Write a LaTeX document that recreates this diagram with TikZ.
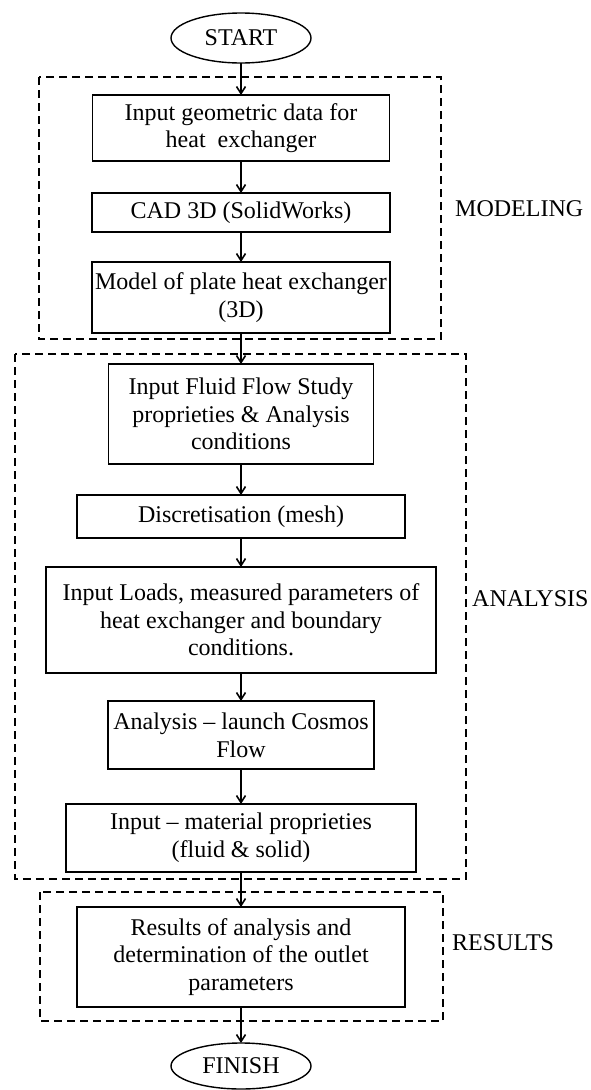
\documentclass[tikz,border=0pt]{standalone}
\usepackage{fontspec}
\setmainfont{Liberation Serif}
\usetikzlibrary{shapes,arrows.meta,positioning}

\begin{document}
\begin{tikzpicture}[x=1pt, y=1pt, >={Straight Barb[length=7pt,width=9pt]}]
    \tikzstyle{startend}   = [draw, ellipse, line width=1.4pt, outer sep=0pt, minimum width=140pt, minimum height=50pt, inner sep=1pt, font=\fontsize{24}{27.6}\selectfont]
    \tikzstyle{process}    = [draw, rectangle, line width=1.6pt, outer sep=0pt, align=center, inner xsep=2pt, inner ysep=2pt, font=\fontsize{24}{27.6}\selectfont]
    \tikzstyle{arrow}      = [line width=1.6pt, ->]
    \tikzstyle{group}      = [line width=1.4pt, dash pattern=on 8pt off 5pt]
    \tikzstyle{grouplabel} = [anchor=west, inner sep=0pt, font=\fontsize{24}{27.6}\selectfont]

    \useasboundingbox (0,0) rectangle (590,-1090);

    % Start
    \node [startend] (start) at (241,-38) {START};

    % Modeling blocks
    \node [process, below=32pt of start, minimum width=297pt, minimum height=66pt] (geom) {Input geometric data for\\heat~ exchanger};
    \node [process, below=32pt of geom, minimum width=298pt, minimum height=39pt] (cad) {CAD 3D (SolidWorks)};
    \node [process, below=30pt of cad, minimum width=298pt, minimum height=71pt] (model) {Model of plate heat exchanger\\(3D)};

    % Analysis blocks
    \node [process, below=31pt of model, minimum width=265pt, minimum height=100pt] (fluid) {Input Fluid Flow Study\\proprieties \& Analysis\\conditions};
    \node [process, below=31pt of fluid, minimum width=328pt, minimum height=43pt] (mesh) {Discretisation (mesh)};
    \node [process, below=29pt of mesh, minimum width=390pt, minimum height=106pt] (loads) {Input Loads, measured parameters of\\heat exchanger and boundary\\conditions.};
    \node [process, below=28pt of loads, minimum width=266pt, minimum height=68pt] (launch) {Analysis -- launch Cosmos\\Flow};
    \node [process, below=35pt of launch, minimum width=350pt, minimum height=68pt] (mater) {Input -- material proprieties\\(fluid \& solid)};

    % Results block
    \node [process, below=35pt of mater, minimum width=328pt, minimum height=100pt] (result) {Results of analysis and\\determination of the outlet\\parameters};

    % Finish
    \node [startend, below=36pt of result, minimum height=46pt] (finish) {FINISH};

    % Connections
    \draw [arrow] (start) -- (geom);
    \draw [arrow] (geom) -- (cad);
    \draw [arrow] (cad) -- (model);
    \draw [arrow] (model) -- (fluid);
    \draw [arrow] (fluid) -- (mesh);
    \draw [arrow] (mesh) -- (loads);
    \draw [arrow] (loads) -- (launch);
    \draw [arrow] (launch) -- (mater);
    \draw [arrow] (mater) -- (result);
    \draw [arrow] (result) -- (finish);

    % Grouping boxes
    \draw [group] ([xshift=-53.5pt,yshift=18pt]geom.north west) rectangle ([xshift=51pt,yshift=-6pt]model.south east);
    \draw [group] ([xshift=-31pt,yshift=10pt]fluid.north -| loads.west) rectangle ([xshift=30pt,yshift=-7pt]mater.south -| loads.east);
    \draw [group] ([xshift=-37pt,yshift=15pt]result.north west) rectangle ([xshift=38pt,yshift=-14pt]result.south east);

    % Group labels
    \node [grouplabel] (modlabel) at (455,-209) {MODELING};
    \node [grouplabel] (analabel) at (472,-599) {ANALYSIS};
    \node [grouplabel] (reslabel) at (452,-943) {RESULTS};
\end{tikzpicture}
\end{document}
